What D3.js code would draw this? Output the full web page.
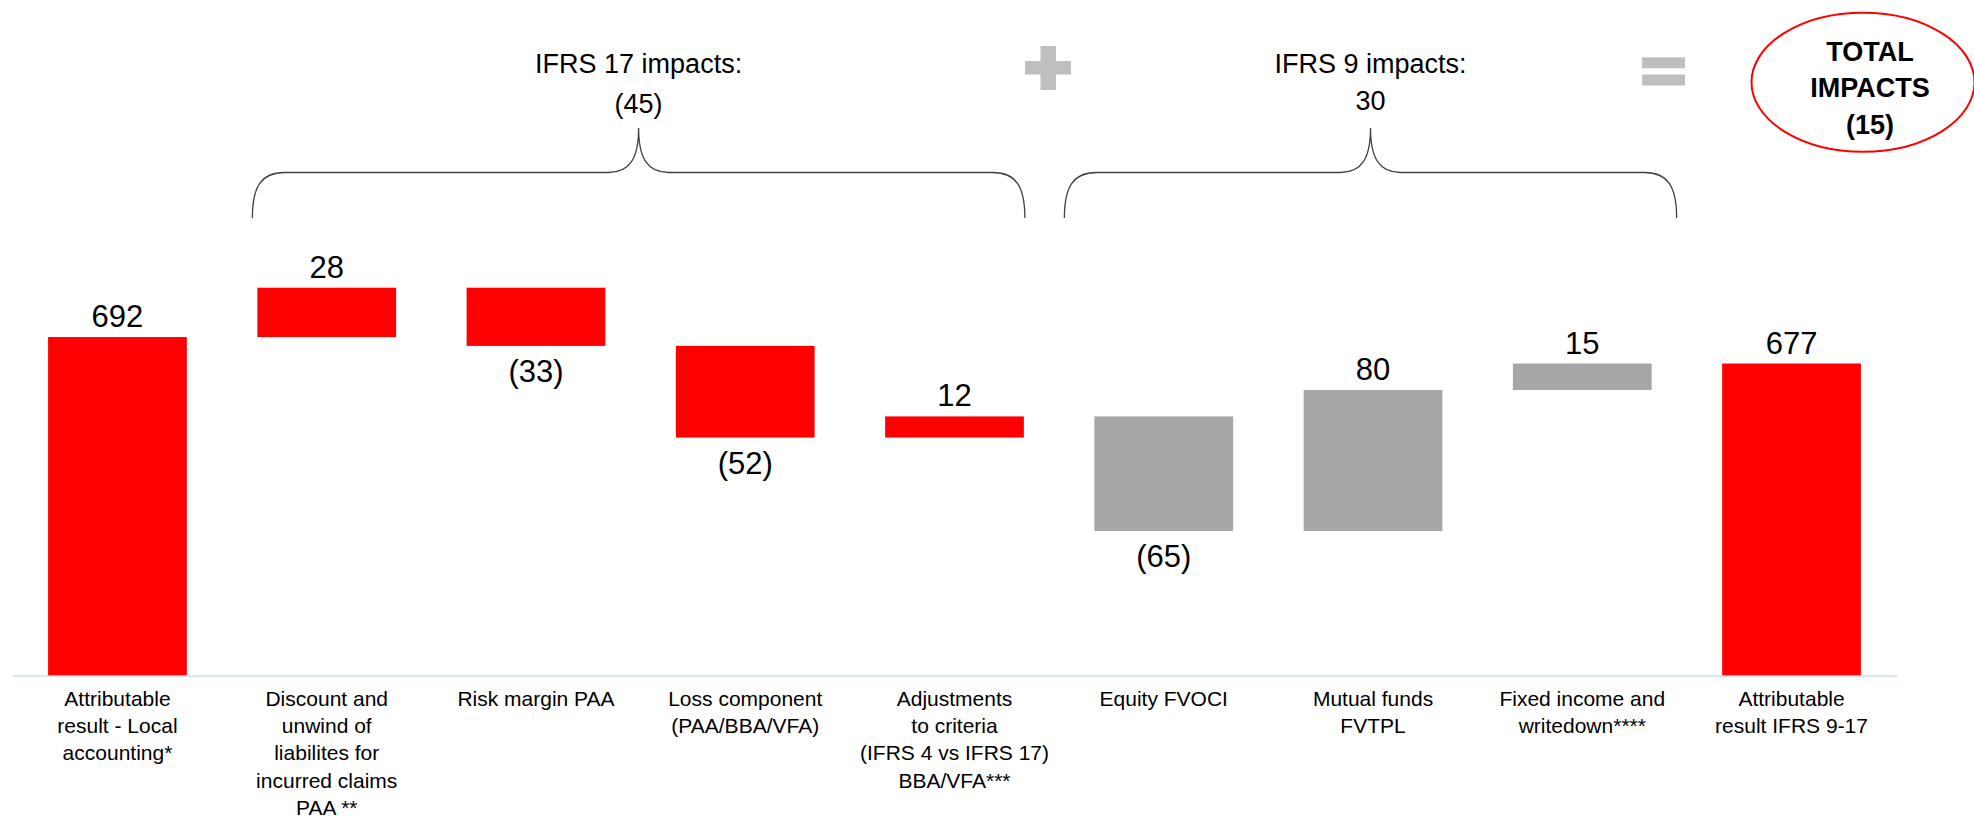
<!DOCTYPE html>
<html>
<head>
<meta charset="utf-8">
<script src="https://cdn.jsdelivr.net/npm/d3@7"></script>
<style>
  body { margin: 0; background: #fff; }
  svg { display: block; font-family: "Liberation Sans", Arial, sans-serif; }
</style>
</head>
<body>
<div id="chart"></div>
<script>
// Chart data
var categories = [
  "Attributable result - Local accounting*",
  "Discount and unwind of liabilites for incurred claims PAA **",
  "Risk margin PAA",
  "Loss component (PAA/BBA/VFA)",
  "Adjustments to criteria (IFRS 4 vs IFRS 17) BBA/VFA***",
  "Equity FVOCI",
  "Mutual funds FVTPL",
  "Fixed income and writedown****",
  "Attributable result IFRS 9-17"
];
// how each category label is broken into lines
var labelLines = [
  ["Attributable", "result - Local", "accounting*"],
  ["Discount and", "unwind of", "liabilites for", "incurred claims", "PAA **"],
  ["Risk margin PAA"],
  ["Loss component", "(PAA/BBA/VFA)"],
  ["Adjustments", "to criteria", "(IFRS 4 vs IFRS 17)", "BBA/VFA***"],
  ["Equity FVOCI"],
  ["Mutual funds", "FVTPL"],
  ["Fixed income and", "writedown****"],
  ["Attributable", "result IFRS 9-17"]
];
var values = [692, 28, -33, -52, 12, -65, 80, 15, 677];
var groups = ["total", "ifrs17", "ifrs17", "ifrs17", "ifrs17", "ifrs9", "ifrs9", "ifrs9", "total"];
var groupTitles = ["IFRS 17 impacts:", "IFRS 9 impacts:"];
var totalTitle = ["TOTAL", "IMPACTS"];

var colors = { total: "#ff0000", ifrs17: "#ff0000", ifrs9: "#a6a6a6" };

function fmt(v) { return v < 0 ? "(" + Math.abs(v) + ")" : "" + v; }

// Waterfall start/end for each bar
var steps = [];
var running = 0;
values.forEach(function(v, i) {
  if (groups[i] === "total") {
    steps.push({ i: i, y0: 500, y1: v, v: v });
    running = v;
  } else {
    steps.push({ i: i, y0: running, y1: running + v, v: v });
    running += v;
  }
});

var svgWidth = 1974;
var svgHeight = 823;

var svg = d3.select("#chart")
  .append("svg")
  .attr("width", svgWidth)
  .attr("height", svgHeight);

// Scales
var x = d3.scaleBand()
  .domain(categories)
  .range([12, 1897])
  .paddingInner(0.337)
  .paddingOuter(0.1725);

var y = d3.scaleLinear()
  .domain([500, 720])
  .range([675.6, 287.7]);

var bw = x.bandwidth();

// Bars
svg.selectAll("rect.bar")
  .data(steps)
  .enter()
  .append("rect")
  .attr("class", "bar")
  .attr("x", d => x(categories[d.i]))
  .attr("y", d => y(Math.max(d.y0, d.y1)))
  .attr("width", bw)
  .attr("height", d => Math.abs(y(d.y0) - y(d.y1)))
  .attr("fill", d => colors[groups[d.i]]);

// Value labels: above for positives, below for negatives
svg.selectAll("text.val")
  .data(steps)
  .enter()
  .append("text")
  .attr("class", "val")
  .attr("x", d => x(categories[d.i]) + bw / 2)
  .attr("y", d => d.v < 0 ? y(Math.min(d.y0, d.y1)) + 36 : y(Math.max(d.y0, d.y1)) - 10)
  .attr("text-anchor", "middle")
  .attr("font-size", "31px")
  .attr("fill", "#000")
  .text(d => fmt(d.v));

// Bottom axis with multi-line labels
var bottomAxis = d3.axisBottom(x).tickSize(0).tickSizeOuter(0).tickFormat("");
var axisG = svg.append("g")
  .attr("transform", "translate(0," + y(500) + ")")
  .call(bottomAxis);
axisG.select(".domain").attr("stroke", "#c6d9f1").attr("stroke-width", 1.3);
axisG.selectAll(".tick text").remove();
axisG.selectAll(".tick").each(function(d, i) {
  var t = d3.select(this).append("text")
    .attr("text-anchor", "middle")
    .attr("font-size", "21px")
    .attr("fill", "#000");
  labelLines[i].forEach(function(line, k) {
    t.append("tspan")
      .attr("x", 0)
      .attr("y", 30 + k * 27.4)
      .text(line);
  });
});

// Braces over the two groups
function brace(x0, x1, yBot, yMid, yTip) {
  var tip = (x0 + x1) / 2;
  return "M" + x0 + "," + yBot +
    " C" + x0 + "," + (yMid + 14) + " " + (x0 + 9) + "," + yMid + " " + (x0 + 32) + "," + yMid +
    " L" + (tip - 30) + "," + yMid +
    " C" + (tip - 9) + "," + yMid + " " + tip + "," + (yMid - 14) + " " + tip + "," + yTip +
    " C" + tip + "," + (yMid - 14) + " " + (tip + 9) + "," + yMid + " " + (tip + 30) + "," + yMid +
    " L" + (x1 - 32) + "," + yMid +
    " C" + (x1 - 9) + "," + yMid + " " + x1 + "," + (yMid + 14) + " " + x1 + "," + yBot;
}

var sum17 = d3.sum(values.filter((v, i) => groups[i] === "ifrs17"));
var sum9 = d3.sum(values.filter((v, i) => groups[i] === "ifrs9"));

var braces = [
  { x0: x(categories[1]) - 5, x1: x(categories[4]) + bw + 1, title: groupTitles[0], value: sum17, vy: 113 },
  { x0: x(categories[5]) - 30, x1: x(categories[7]) + bw + 25, title: groupTitles[1], value: sum9, vy: 109.5 }
];

braces.forEach(function(b) {
  svg.append("path")
    .attr("d", brace(b.x0, b.x1, 218, 172.5, 128))
    .attr("fill", "none")
    .attr("stroke", "#404040")
    .attr("stroke-width", 1.3);
  var cx = (b.x0 + b.x1) / 2;
  svg.append("text")
    .attr("x", cx)
    .attr("y", 72.5)
    .attr("text-anchor", "middle")
    .attr("font-size", "27px")
    .text(b.title);
  svg.append("text")
    .attr("x", cx)
    .attr("y", b.vy)
    .attr("text-anchor", "middle")
    .attr("font-size", "27px")
    .text(fmt(b.value));
});

// Plus sign
var plus = svg.append("g").attr("fill", "#bfbfbf");
plus.append("rect").attr("x", 1025).attr("y", 61).attr("width", 46).attr("height", 13.5);
plus.append("rect").attr("x", 1040.5).attr("y", 46).attr("width", 15.5).attr("height", 44);

// Equals sign
var eq = svg.append("g").attr("fill", "#bfbfbf");
eq.append("rect").attr("x", 1642).attr("y", 57.3).attr("width", 43).attr("height", 11);
eq.append("rect").attr("x", 1642).attr("y", 74.5).attr("width", 43).attr("height", 11);

// Total impacts ellipse
var totalImpact = sum17 + sum9;
svg.append("ellipse")
  .attr("cx", 1863)
  .attr("cy", 82.2)
  .attr("rx", 111.5)
  .attr("ry", 69.5)
  .attr("fill", "none")
  .attr("stroke", "#ff0000")
  .attr("stroke-width", 2);

var totalText = totalTitle.concat([fmt(totalImpact)]);
svg.selectAll("text.total")
  .data(totalText)
  .enter()
  .append("text")
  .attr("class", "total")
  .attr("x", 1870)
  .attr("y", (d, i) => 60.5 + i * 36.8)
  .attr("text-anchor", "middle")
  .attr("font-size", "27px")
  .attr("font-weight", "bold")
  .text(d => d);
</script>
</body>
</html>
